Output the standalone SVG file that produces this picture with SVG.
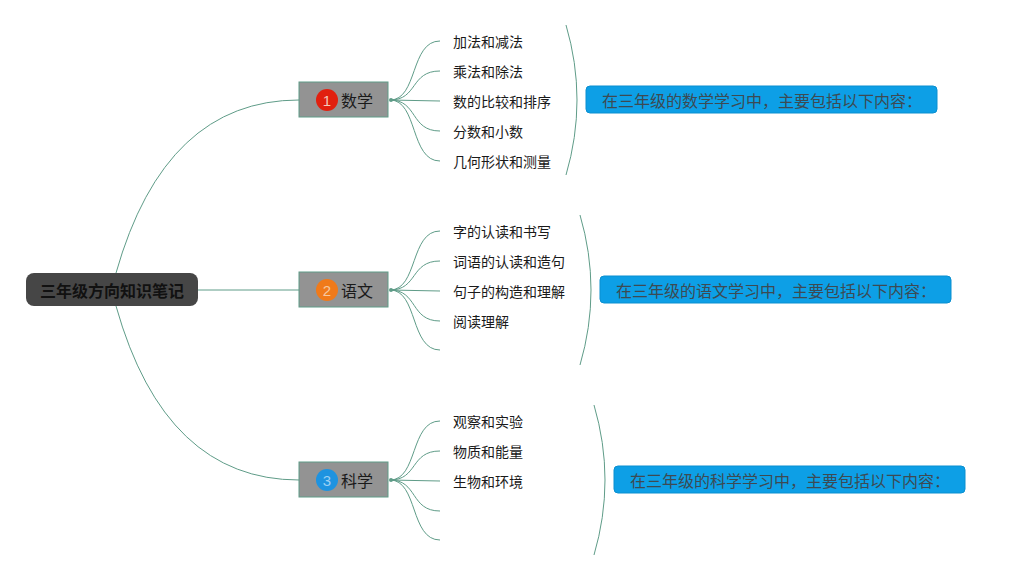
<svg xmlns="http://www.w3.org/2000/svg" width="1010" height="580" viewBox="0 0 1010 580">
<style>
text{font-family:"Noto Sans CJK SC","Liberation Sans",sans-serif;}
.ln{fill:none;stroke:#5f9c88;stroke-width:1;}
.main rect{fill:#939393;stroke:#5f9c88;stroke-width:1;}
.main text.l{font-size:16px;fill:#1a1a1a;dominant-baseline:central;}
.num{font-family:"Liberation Sans","Noto Sans",sans-serif;font-size:15px;fill:#f2c9b8;text-anchor:middle;dominant-baseline:central;}
.leaf{font-size:14px;fill:#1a1a1a;dominant-baseline:central;}
.note rect{fill:#0d9fe6;stroke:#0a8fd0;stroke-width:1;}
.note text{font-size:16px;fill:#3d4a52;dominant-baseline:central;}
.dot{fill:#5f9c88;}
</style>
<rect width="1010" height="580" fill="#ffffff"/>
<g id="connectors">
<path class="ln" d="M116,273 Q165,100 299,100"/>
<path class="ln" d="M198,290 L299,290"/>
<path class="ln" d="M116,306 Q165,480 299,480"/>
<path class="ln" d="M390,100 C418,100 410,41 440,41"/>
<path class="ln" d="M390,100 C418,100 410,71 440,71"/>
<path class="ln" d="M390,100 L440,101"/>
<path class="ln" d="M390,100 C418,100 410,131 440,131"/>
<path class="ln" d="M390,100 C418,100 410,161 440,161"/>
<path class="ln" d="M390,290 C418,290 410,231 440,231"/>
<path class="ln" d="M390,290 C418,290 410,261 440,261"/>
<path class="ln" d="M390,290 L440,291"/>
<path class="ln" d="M390,290 C418,290 410,321 440,321"/>
<path class="ln" d="M390,290 C418,290 410,350 440,350"/>
<path class="ln" d="M390,480 C418,480 410,421 440,421"/>
<path class="ln" d="M390,480 C418,480 410,451 440,451"/>
<path class="ln" d="M390,480 L440,481"/>
<path class="ln" d="M390,480 C418,480 410,511 440,511"/>
<path class="ln" d="M390,480 C418,480 410,540 440,540"/>
<path class="ln" d="M566,25 Q588,100 566,175"/>
<path class="ln" d="M580,215 Q602,290 580,365"/>
<path class="ln" d="M594,405 Q616,480 594,555"/>
<circle class="dot" cx="391" cy="100" r="2"/>
<circle class="dot" cx="391" cy="290" r="2"/>
<circle class="dot" cx="391" cy="480" r="2"/>
</g>
<g id="root">
<rect x="26" y="273" width="172" height="33" rx="8" fill="#464646"/>
<text x="112" y="290" font-size="16" font-weight="bold" fill="#111111" text-anchor="middle" dominant-baseline="central">三年级方向知识笔记</text>
</g>
<g id="math" class="main">
<rect x="299" y="82" width="89" height="35"/>
<circle cx="327" cy="100" r="11" fill="#e1200f"/>
<text class="num" x="327" y="100">1</text>
<text class="l" x="341" y="100">数学</text>
</g>
<g id="chinese" class="main">
<rect x="299" y="272" width="89" height="35"/>
<circle cx="327" cy="290" r="11" fill="#f07a1a"/>
<text class="num" x="327" y="290" style="fill:#f6c8a0">2</text>
<text class="l" x="341" y="290">语文</text>
</g>
<g id="science" class="main">
<rect x="299" y="462" width="89" height="35"/>
<circle cx="327" cy="480" r="11" fill="#1e93e0"/>
<text class="num" x="327" y="480" style="fill:#9bd0f4">3</text>
<text class="l" x="341" y="480">科学</text>
</g>
<g id="math-leaves">
<text class="leaf" x="453" y="41">加法和减法</text>
<text class="leaf" x="453" y="71">乘法和除法</text>
<text class="leaf" x="453" y="101">数的比较和排序</text>
<text class="leaf" x="453" y="131">分数和小数</text>
<text class="leaf" x="453" y="161">几何形状和测量</text>
</g>
<g id="chinese-leaves">
<text class="leaf" x="453" y="231">字的认读和书写</text>
<text class="leaf" x="453" y="261">词语的认读和造句</text>
<text class="leaf" x="453" y="291">句子的构造和理解</text>
<text class="leaf" x="453" y="321">阅读理解</text>
</g>
<g id="science-leaves">
<text class="leaf" x="453" y="421">观察和实验</text>
<text class="leaf" x="453" y="451">物质和能量</text>
<text class="leaf" x="453" y="481">生物和环境</text>
</g>
<g id="math-note" class="note">
<rect x="586" y="86" width="351" height="27" rx="4"/>
<text x="602" y="100">在三年级的数学学习中，主要包括以下内容：</text>
</g>
<g id="chinese-note" class="note">
<rect x="600" y="276" width="351" height="27" rx="4"/>
<text x="616" y="290">在三年级的语文学习中，主要包括以下内容：</text>
</g>
<g id="science-note" class="note">
<rect x="614" y="466" width="351" height="27" rx="4"/>
<text x="630" y="480">在三年级的科学学习中，主要包括以下内容：</text>
</g>
</svg>
